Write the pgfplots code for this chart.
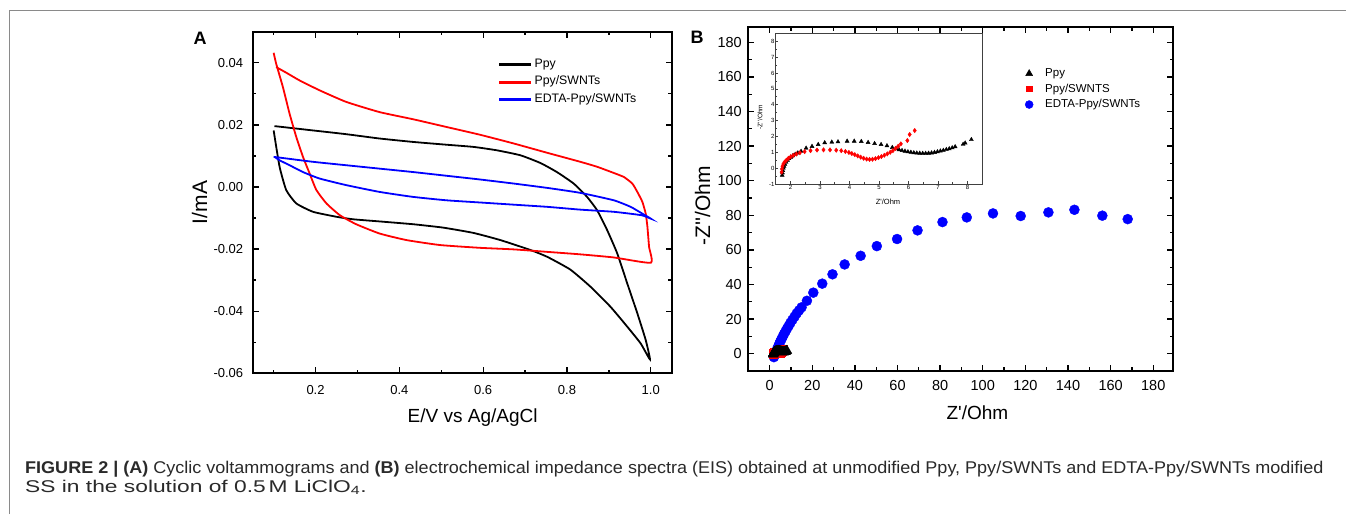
\documentclass[border=0pt]{standalone}
\usepackage{pgfplots}
\pgfplotsset{compat=1.18}
\usepackage{pgfplotstable}
\usepackage{fontspec}
\setmainfont{Liberation Sans}
\newfontfamily\capfontA[FakeStretch=1.06]{Liberation Sans}
\newfontfamily\capfontB[FakeStretch=1.34]{Liberation Sans}
\definecolor{framegray}{HTML}{8A8A8A}
\definecolor{captxt}{HTML}{2A2A2A}

\pgfplotstableread{
x y
1.72 -0.45
1.73 -0.30
1.74 -0.15
1.76 0.00
1.78 0.12
1.81 0.25
1.85 0.38
1.90 0.50
1.95 0.60
2.01 0.69
2.08 0.78
2.16 0.87
2.25 0.96
2.36 1.06
2.53 1.26
2.73 1.37
2.94 1.49
3.16 1.60
3.40 1.64
3.61 1.66
3.92 1.70
4.16 1.70
4.40 1.68
4.63 1.62
4.85 1.55
5.07 1.49
5.27 1.41
5.45 1.30
5.58 1.22
5.68 1.16
5.78 1.11
5.88 1.07
5.98 1.03
6.08 1.00
6.18 0.97
6.28 0.95
6.38 0.94
6.48 0.93
6.58 0.93
6.68 0.94
6.78 0.96
6.88 0.99
6.98 1.03
7.08 1.08
7.18 1.12
7.28 1.17
7.38 1.22
7.48 1.28
7.58 1.35
7.85 1.50
7.92 1.58
8.13 1.80
}\ppy

\pgfplotstableread{
x y
1.70 -0.25
1.71 -0.05
1.73 0.12
1.76 0.26
1.80 0.38
1.86 0.50
1.93 0.62
2.01 0.72
2.10 0.81
2.20 0.89
2.32 0.97
2.48 1.04
2.68 1.10
2.90 1.14
3.12 1.15
3.34 1.15
3.55 1.13
3.72 1.10
3.86 1.05
3.98 0.99
4.08 0.92
4.18 0.85
4.28 0.77
4.38 0.69
4.48 0.62
4.58 0.57
4.68 0.55
4.78 0.56
4.88 0.60
4.98 0.66
5.08 0.73
5.18 0.81
5.28 0.90
5.38 1.00
5.47 1.10
5.56 1.24
5.65 1.38
5.74 1.53
5.96 1.74
6.04 2.12
6.21 2.37
}\ppyswnt

\pgfplotstableread{
x y
2.0 -2.0
2.5 -0.5
3.0 1.0
3.5 2.6
4.0 4.1
4.5 5.6
5.0 7.0
5.6 8.5
6.2 10.0
6.8 11.5
7.5 13.0
8.2 14.6
9.0 16.2
9.8 17.9
10.7 19.6
11.7 21.4
12.7 23.3
13.8 25.0
15.0 26.8
17.5 30.6
20.5 35.3
24.7 40.5
29.5 45.9
35.2 51.6
42.7 56.6
50.3 62.2
59.8 66.3
69.4 71.3
81.1 76.1
92.5 78.8
104.8 81.1
117.8 79.6
130.8 81.7
143.0 83.2
156.1 79.8
168.0 77.8
}\edta

\pgfplotsset{
  originax/.style={
    scale only axis,
    axis line style={line width=1.7pt},
    tick align=inside,
    major tick length=6pt, minor tick length=3.5pt,
    every tick/.style={black, line width=1.3pt},
    xtick pos=both, ytick pos=both,
    /pgf/number format/assume math mode=true,
  }
}

\begin{document}
\begin{tikzpicture}[x=1pt,y=1pt]
\path[use as bounding box] (0,0) rectangle (1346,514);
\fill[white] (0,0) rectangle (1346,514);
\draw[framegray, line width=1.5pt] (9.5,0) -- (9.5,503.3) -- (1346,503.3);

% ---------- Panel A ----------
\begin{axis}[originax,
  at={(252.7pt,140.7pt)}, anchor=south west,
  width=419pt, height=341.6pt,
  xmin=0.05, xmax=1.05, ymin=-0.06, ymax=0.05,
  xtick={0.2,0.4,0.6,0.8,1.0}, minor xtick={0.1,0.3,0.5,0.7,0.9},
  ytick={-0.06,-0.04,-0.02,0,0.02,0.04}, minor ytick={-0.05,-0.03,-0.01,0.01,0.03},
  scaled y ticks=false, scaled x ticks=false,
  xticklabel style={yshift=-9pt, /pgf/number format/.cd, fixed, fixed zerofill, precision=1},
  yticklabel style={xshift=-6pt, /pgf/number format/.cd, fixed, fixed zerofill, precision=2},
  tick label style={font=\fontsize{13}{15}\selectfont},
  xlabel={E/V vs Ag/AgCl}, ylabel={I/mA},
  xlabel style={font=\fontsize{19}{22}\selectfont, at={(axis description cs:0.525,-0.1455)}, anchor=base},
  ylabel style={font=\fontsize{21}{24}\selectfont, at={(axis description cs:-0.109,0.5)}, anchor=base},
  legend style={draw=none, fill=none, at={(axis description cs:0.5878,0.922)}, anchor=north west,
    inner sep=0pt, column sep=4pt, row sep=5.3pt, font=\fontsize{12.3}{14}\selectfont,
    nodes={inner sep=0pt, text height=9pt, text depth=3pt}},
  legend cell align=left,
  legend image code/.code={\fill[#1] (0pt,-0.9pt) rectangle (31pt,0.9pt);},
]
\addlegendimage{black, fill=black}
\addlegendentry{Ppy}
\addlegendimage{red, fill=red}
\addlegendentry{Ppy/SWNTs}
\addlegendimage{blue, fill=blue}
\addlegendentry{EDTA-Ppy/SWNTs}
\addplot[black, line width=1.8pt, smooth, tension=0.3, forget plot] coordinates {
(0.100,0.0182) (0.114,0.0066) (0.130,-0.0010) (0.154,-0.0053) (0.194,-0.0080)
(0.250,-0.0096) (0.289,-0.0104) (0.353,-0.0111) (0.433,-0.0120) (0.505,-0.0131)
(0.577,-0.0148) (0.641,-0.0171) (0.713,-0.0203) (0.753,-0.0225) (0.808,-0.0266)
(0.856,-0.0321) (0.904,-0.0386) (0.944,-0.0450) (0.976,-0.0504) (0.998,-0.0555)
(0.988,-0.0493) (0.968,-0.0407) (0.944,-0.0311) (0.920,-0.0214) (0.896,-0.0139)
(0.872,-0.0075) (0.848,-0.0032) (0.816,0.0011) (0.776,0.0048) (0.737,0.0077)
(0.689,0.0102) (0.633,0.0118) (0.577,0.0129) (0.513,0.0136) (0.433,0.0145)
(0.353,0.0156) (0.273,0.0170) (0.194,0.0182) (0.102,0.0196)};
\addplot[red, line width=1.8pt, smooth, tension=0.3, forget plot] coordinates {
(0.100,0.0432) (0.106,0.0397) (0.122,0.0322) (0.138,0.0236) (0.154,0.0161)
(0.170,0.0097) (0.186,0.0043) (0.202,-0.0010) (0.226,-0.0053) (0.258,-0.0091)
(0.297,-0.0120) (0.353,-0.0150) (0.417,-0.0171) (0.497,-0.0187) (0.593,-0.0196)
(0.673,-0.0201) (0.753,-0.0209) (0.832,-0.0217) (0.912,-0.0227) (1.000,-0.0244)
(0.996,-0.0193) (0.992,-0.0128) (0.988,-0.0086) (0.980,-0.0048) (0.968,-0.0016)
(0.956,0.0011) (0.936,0.0032) (0.912,0.0045) (0.872,0.0065) (0.832,0.0081)
(0.753,0.0110) (0.673,0.0140) (0.593,0.0168) (0.513,0.0193) (0.433,0.0218)
(0.353,0.0241) (0.273,0.0274) (0.210,0.0311) (0.162,0.0343) (0.130,0.0368)
(0.106,0.0386)};
\addplot[blue, line width=1.8pt, smooth, tension=0.3, forget plot] coordinates {
(0.100,0.0097) (0.194,0.0081) (0.273,0.0070) (0.353,0.0059) (0.433,0.0048)
(0.513,0.0036) (0.593,0.0024) (0.673,0.0011) (0.753,-0.0003) (0.832,-0.0019)
(0.912,-0.0043) (0.952,-0.0064) (0.980,-0.0086) (1.000,-0.0102)
(0.978,-0.0091) (0.912,-0.0080) (0.832,-0.0073) (0.753,-0.0064) (0.673,-0.0057)
(0.593,-0.0050) (0.513,-0.0043) (0.433,-0.0032) (0.353,-0.0016) (0.273,0.0006)
(0.210,0.0027) (0.170,0.0048) (0.138,0.0070) (0.114,0.0086) (0.102,0.0097)};
\end{axis}

% ---------- Panel B ----------
\begin{axis}[originax,
  at={(748.3pt,143pt)}, anchor=south west,
  width=425pt, height=343.7pt,
  xmin=-10, xmax=189.4, ymin=-10, ymax=188.7,
  xtick={0,20,...,180}, minor xtick={10,30,...,170},
  ytick={0,20,...,180}, minor ytick={10,30,...,170},
  xticklabel style={yshift=-6pt},
  yticklabel style={xshift=-3pt},
  tick label style={font=\fontsize{14.5}{16}\selectfont},
  xlabel={Z\textquotesingle/Ohm}, ylabel={-Z\textquotesingle\textquotesingle/Ohm},
  xlabel style={font=\fontsize{19}{22}\selectfont, at={(axis description cs:0.539,-0.1405)}, anchor=base},
  ylabel style={font=\fontsize{21}{24}\selectfont, at={(axis description cs:-0.090,0.4807)}, anchor=base},
  legend style={draw=none, fill=none, at={(axis description cs:0.651,0.882)}, anchor=north west,
    inner sep=0pt, column sep=12pt, row sep=4.5pt, font=\fontsize{11.5}{13}\selectfont,
    nodes={inner sep=0pt, text height=8.5pt, text depth=2.5pt}},
  legend cell align=left,
  legend image code/.code={\draw[mark repeat=2, mark phase=2, #1] plot coordinates {(-5pt,0pt) (0pt,0pt) (5pt,0pt)};},
]
\addlegendimage{only marks, mark=triangle*, mark size=4pt, black}
\addlegendentry{Ppy}
\addlegendimage{only marks, mark=square*, mark size=2.6pt, red}
\addlegendentry{Ppy/SWNTS}
\addlegendimage{only marks, mark=*, mark size=4pt, blue}
\addlegendentry{EDTA-Ppy/SWNTs}
\addplot[only marks, mark=*, mark size=5pt, blue, forget plot] table {\edta};
\addplot[only marks, mark=square*, mark size=4pt, red, forget plot] table {\ppyswnt};
\addplot[only marks, mark=triangle*, mark size=5.5pt, black, forget plot] table {\ppy};
\end{axis}

% ---------- Inset ----------
\begin{axis}[
  at={(775.7pt,330pt)}, anchor=south west, scale only axis,
  width=206.6pt, height=150.7pt,
  xmin=1.5, xmax=8.5, ymin=-1, ymax=8.5,
  axis background/.style={fill=white},
  axis line style={line width=0.7pt, black!75},
  tick align=inside, xtick pos=left, ytick pos=left,
  major tick length=2.5pt, minor tick length=1.5pt,
  every tick/.style={black!75, line width=0.6pt},
  xtick={2,...,8}, ytick={-1,0,...,8},
  minor xtick={2.5,3.5,...,7.5}, minor ytick={-0.5,0.5,...,7.5},
  /pgf/number format/assume math mode=true,
  tick label style={font=\fontsize{6}{7}\selectfont, inner sep=1pt},
  xlabel={Z\textquotesingle/Ohm}, ylabel={-Z\textquotesingle\textquotesingle/Ohm},
  xlabel style={font=\fontsize{7.5}{8}\selectfont, at={(axis description cs:0.5436,-0.119)}, anchor=center},
  ylabel style={font=\fontsize{6.5}{7}\selectfont, at={(axis description cs:-0.076,0.445)}, anchor=center},
]
\addplot[only marks, mark=triangle*, mark size=2.3pt, black] table {\ppy};
\addplot[only marks, mark=diamond*, mark size=2.2pt, red] table {\ppyswnt};
\end{axis}

% panel letters
\node[font=\fontsize{18}{20}\selectfont\bfseries] at (200,476) {A};
\node[font=\fontsize{18}{20}\selectfont\bfseries] at (697,477) {B};

% caption
\node[anchor=base west, text=captxt, font=\capfontA\fontsize{17}{20}\selectfont, inner sep=0pt] at (25,40.7)
  {\textbf{FIGURE 2 | (A)} Cyclic voltammograms and \textbf{(B)} electrochemical impedance spectra (EIS) obtained at unmodified Ppy, Ppy/SWNTs and EDTA-Ppy/SWNTs modified};
\node[anchor=base west, text=captxt, font=\capfontB\fontsize{17}{20}\selectfont, inner sep=0pt] at (25,21.7)
  {SS in the solution of 0.5\,M LiClO\textsubscript{4}.};
\end{tikzpicture}
\end{document}
